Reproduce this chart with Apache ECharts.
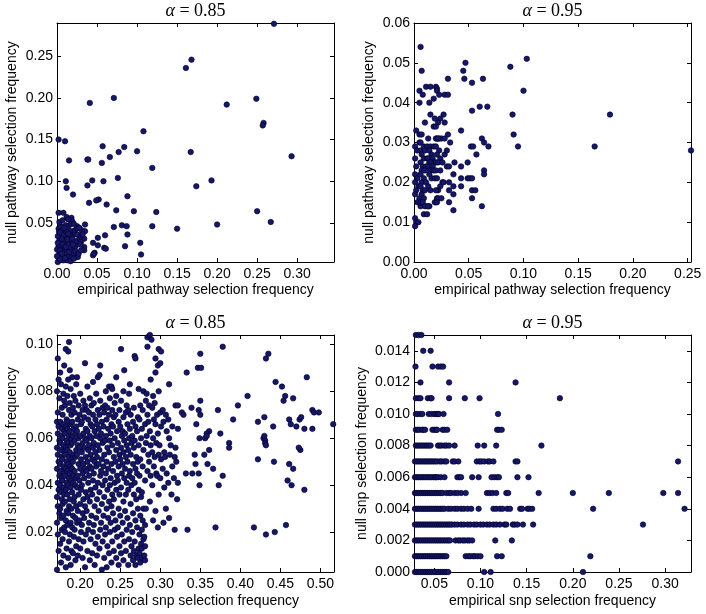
<!DOCTYPE html>
<html><head><meta charset="utf-8">
<script src="https://cdn.jsdelivr.net/npm/echarts@6/dist/echarts.min.js"></script>
<style>html,body{margin:0;padding:0;background:#fff}#c{width:706px;height:614px}</style>
</head><body><div id="c"></div>
<script>
// ---------- data ----------
const titles = ['α', ' = 0.85', ' = 0.95'];
const xNames = ['empirical pathway selection frequency', 'empirical snp selection frequency'];
const yNames = ['null pathway selection frequency', 'null snp selection frequency'];

const tlXTicks = [0.00, 0.05, 0.10, 0.15, 0.20, 0.25, 0.30];
const tlYTicks = [0.05, 0.10, 0.15, 0.20, 0.25];
const trXTicks = [0.00, 0.05, 0.10, 0.15, 0.20, 0.25];
const trYTicks = [0.00, 0.01, 0.02, 0.03, 0.04, 0.05, 0.06];
const blXTicks = [0.20, 0.25, 0.30, 0.35, 0.40, 0.45, 0.50];
const blYTicks = [0.02, 0.04, 0.06, 0.08, 0.10];
const brXTicks = [0.05, 0.10, 0.15, 0.20, 0.25, 0.30];
const brYTicks = [0.000, 0.002, 0.004, 0.006, 0.008, 0.010, 0.012, 0.014];

const tlRange = {x: [0, 0.346], y: [0.003, 0.290]};
const trRange = {x: [0, 0.253], y: [0, 0.06]};
const blRange = {x: [0.171, 0.517], y: [0.003, 0.104]};
const brRange = {x: [0.028, 0.328], y: [0, 0.015]};

const pathway85 = [
[0.271,0.289],[0.168,0.246],[0.161,0.236],[0.041,0.194],[0.071,0.200],[0.249,0.199],[0.212,0.192],[0.347,0.192],
[0.258,0.170],[0.257,0.167],[0.108,0.160],[0.002,0.150],[0.010,0.148],[0.057,0.142],[0.084,0.141],[0.077,0.135],
[0.100,0.136],[0.167,0.135],[0.066,0.129],[0.038,0.126],[0.039,0.126],[0.015,0.125],[0.056,0.122],[0.119,0.116],
[0.076,0.104],[0.293,0.130],[0.011,0.100],[0.058,0.100],[0.044,0.101],[0.038,0.095],[0.193,0.101],[0.174,0.094],
[0.012,0.092],[0.020,0.084],[0.088,0.082],[0.052,0.078],[0.049,0.077],[0.040,0.074],[0.062,0.072],[0.074,0.065],
[0.096,0.064],[0.124,0.063],[0.250,0.064],[0.267,0.051],[0.200,0.048],[0.150,0.043],[0.119,0.046],[0.081,0.047],
[0.087,0.046],[0.071,0.045],[0.088,0.036],[0.060,0.035],[0.085,0.022],[0.104,0.026],[0.105,0.012],[0.059,0.020],
[0.061,0.019],[0.051,0.032],[0.051,0.023],[0.045,0.026],[0.047,0.014],[0.045,0.011],[0.046,0.013],[0.035,0.048],
[0.035,0.040],[0.034,0.031],[0.034,0.021],[0.034,0.017],[0.026,0.044],[0.025,0.046],[0.028,0.031],[0.024,0.023],
[0.030,0.027],[0.024,0.009],
[0.002,0.062],[0.008,0.062],[0.002,0.043],[0.012,0.057],[0.018,0.056],[0.019,0.052],[0.014,0.054],[0.017,0.048],
[0.021,0.049],[0.005,0.046],[0.011,0.047],[0.014,0.043],[0.0075,0.041],[0.0025,0.039],[0.0167,0.040],[0.022,0.041],
[0.025,0.043],[0.028,0.035],[0.005,0.035],[0.011,0.033],[0.016,0.032],[0.020,0.035],[0.003,0.029],[0.008,0.027],
[0.014,0.025],[0.019,0.027],[0.023,0.028],[0.002,0.022],[0.007,0.019],[0.012,0.017],[0.017,0.019],[0.022,0.020],
[0.029,0.024],[0.003,0.014],[0.010,0.012],[0.015,0.010],[0.021,0.013],[0.026,0.009],[0.002,0.008],[0.008,0.005],
[0.013,0.005],[0.001,0.003],[0.005,0.009],[0.009,0.022],[0.013,0.030],[0.006,0.031],[0.000,0.018],[0.000,0.010],
[0.001,0.026],[0.001,0.034],[0.004,0.038],[0.009,0.036],[0.012,0.039],[0.016,0.036],[0.019,0.031],[0.007,0.024],
[0.011,0.021],[0.004,0.017],[0.015,0.015],[0.018,0.008],[0.020,0.024],[0.023,0.016],[0.027,0.013],[0.003,0.051],
[0.007,0.053],[0.009,0.044],[0.004,0.006],[0.010,0.008],[0.017,0.004],[0.021,0.007],[0.030,0.017],[0.031,0.041],
[0.028,0.044],[0.032,0.036],[0.025,0.036],[0.006,0.013],[0.014,0.037]
];

const pathway95 = [
[0.006,0.054],[0.103,0.051],[0.047,0.050],[0.088,0.049],[0.007,0.048],[0.045,0.048],[0.031,0.046],[0.046,0.046],
[0.053,0.045],[0.063,0.046],[0.005,0.043],[0.011,0.044],[0.015,0.044],[0.020,0.044],[0.021,0.0435],[0.008,0.042],
[0.021,0.043],[0.023,0.042],[0.028,0.042],[0.031,0.042],[0.100,0.043],[0.005,0.040],[0.014,0.040],[0.018,0.041],
[0.060,0.039],[0.067,0.039],[0.053,0.038],[0.015,0.037],[0.027,0.037],[0.090,0.037],[0.019,0.036],[0.024,0.036],
[0.028,0.035],[0.010,0.035],[0.022,0.035],[0.018,0.034],[0.020,0.034],[0.043,0.033],[0.002,0.033],[0.091,0.032],
[0.031,0.032],[0.005,0.032],[0.007,0.032],[0.062,0.031],[0.021,0.031],[0.023,0.031],[0.025,0.031],[0.028,0.031],
[0.033,0.030],[0.064,0.030],[0.052,0.029],[0.054,0.029],[0.068,0.029],[0.095,0.029],[0.005,0.030],[0.009,0.029],
[0.012,0.029],[0.057,0.027],[0.028,0.027],[0.049,0.025],[0.037,0.025],[0.043,0.024],[0.030,0.024],[0.032,0.024],
[0.064,0.023],[0.064,0.022],[0.036,0.022],[0.043,0.021],[0.049,0.021],[0.051,0.021],[0.053,0.021],[0.026,0.020],
[0.032,0.020],[0.036,0.019],[0.043,0.019],[0.053,0.018],[0.056,0.018],[0.032,0.018],[0.022,0.018],[0.021,0.016],
[0.036,0.017],[0.053,0.016],[0.062,0.014],[0.032,0.015],[0.020,0.015],[0.012,0.014],[0.014,0.014],[0.009,0.012],
[0.001,0.011],[0.002,0.010],[0.004,0.010],[0.001,0.009],[0.036,0.013],[0.179,0.037],[0.165,0.029],[0.253,0.028],
[0.001,0.029],[0.003,0.028],[0.001,0.026],[0.002,0.024],[0.001,0.022],[0.003,0.021],[0.001,0.020],[0.004,0.019],
[0.002,0.018],[0.001,0.017],[0.005,0.016],[0.003,0.015],[0.006,0.014],
[0.006,0.030],[0.006,0.028],[0.010,0.028],[0.007,0.027],[0.009,0.026],[0.012,0.026],[0.006,0.025],[0.008,0.024],
[0.011,0.024],[0.007,0.023],[0.010,0.023],[0.006,0.022],[0.009,0.021],[0.007,0.020],[0.011,0.020],[0.006,0.019],
[0.008,0.018],[0.010,0.018],[0.007,0.017],[0.009,0.016],[0.006,0.015],[0.008,0.015],[0.010,0.014],[0.012,0.012],
[0.013,0.031],[0.015,0.029],[0.018,0.029],[0.014,0.028],[0.016,0.027],[0.013,0.026],[0.017,0.026],[0.014,0.025],
[0.016,0.025],[0.019,0.025],[0.013,0.024],[0.017,0.024],[0.015,0.023],[0.018,0.023],[0.014,0.022],[0.016,0.021],
[0.019,0.021],[0.013,0.019],[0.015,0.018],[0.013,0.014],
[0.020,0.031],[0.022,0.031],[0.020,0.029],[0.023,0.028],[0.021,0.027],[0.024,0.026],[0.020,0.025],[0.022,0.025],
[0.026,0.025],[0.020,0.023],[0.024,0.023],[0.021,0.021],[0.027,0.020],[0.024,0.019],[0.020,0.018],[0.022,0.016],
[0.025,0.016],[0.019,0.015],[0.021,0.015],[0.030,0.028]
];

const snp85 = [
[0.171,0.004],[0.173,0.012],[0.172,0.019],[0.171,0.024],[0.174,0.028],[0.172,0.031],[0.171,0.035],[0.173,0.038],[0.172,0.041],[0.174,0.044],[0.171,0.047],[0.173,0.050],[0.172,0.053],[0.171,0.056],[0.174,0.059],[0.172,0.062],[0.173,0.065],[0.171,0.067],[0.172,0.071],[0.174,0.077],[0.171,0.080],[0.173,0.085],[0.172,0.094],
[0.176,0.007],[0.175,0.015],[0.177,0.021],[0.176,0.026],[0.175,0.030],[0.177,0.034],[0.176,0.037],[0.175,0.040],[0.177,0.043],[0.176,0.046],[0.175,0.049],[0.177,0.052],[0.176,0.055],[0.175,0.058],[0.176,0.061],[0.177,0.064],[0.175,0.067],[0.177,0.073],[0.176,0.083],[0.175,0.088],
[0.179,0.010],[0.178,0.017],[0.180,0.022],[0.179,0.027],[0.178,0.032],[0.180,0.036],[0.179,0.039],[0.178,0.042],[0.180,0.045],[0.179,0.048],[0.178,0.051],[0.180,0.054],[0.179,0.057],[0.178,0.060],[0.180,0.063],[0.179,0.066],[0.178,0.070],[0.180,0.076],[0.179,0.079],
[0.182,0.005],[0.183,0.013],[0.181,0.020],[0.182,0.025],[0.183,0.029],[0.181,0.033],[0.182,0.038],[0.183,0.041],[0.181,0.044],[0.182,0.047],[0.183,0.050],[0.181,0.053],[0.182,0.056],[0.183,0.059],[0.181,0.062],[0.182,0.065],[0.183,0.068],[0.181,0.074],[0.182,0.082],[0.180,0.091],[0.182,0.098],
[0.185,0.009],[0.186,0.016],[0.184,0.023],[0.185,0.028],[0.186,0.031],[0.184,0.036],[0.185,0.040],[0.186,0.043],[0.184,0.046],[0.185,0.049],[0.186,0.052],[0.184,0.055],[0.185,0.058],[0.186,0.061],[0.184,0.064],[0.185,0.067],[0.186,0.072],[0.184,0.078],[0.185,0.085],[0.185,0.097],[0.186,0.101],
[0.188,0.006],[0.189,0.012],[0.187,0.019],[0.188,0.024],[0.189,0.030],[0.187,0.034],[0.188,0.039],[0.189,0.042],[0.187,0.045],[0.188,0.048],[0.189,0.051],[0.187,0.054],[0.188,0.057],[0.189,0.060],[0.187,0.063],[0.188,0.066],[0.189,0.070],[0.187,0.075],[0.188,0.081],[0.187,0.089],
[0.191,0.011],[0.192,0.018],[0.190,0.022],[0.191,0.027],[0.192,0.033],[0.190,0.037],[0.191,0.041],[0.192,0.044],[0.190,0.047],[0.191,0.050],[0.192,0.053],[0.190,0.058],[0.191,0.061],[0.192,0.064],[0.190,0.067],[0.191,0.073],[0.192,0.078],[0.190,0.086],
[0.194,0.008],[0.195,0.014],[0.193,0.021],[0.194,0.026],[0.195,0.031],[0.193,0.035],[0.194,0.040],[0.195,0.043],[0.193,0.046],[0.194,0.052],[0.195,0.055],[0.193,0.059],[0.194,0.062],[0.195,0.065],[0.193,0.071],[0.194,0.076],[0.195,0.083],
[0.197,0.010],[0.198,0.017],[0.196,0.024],[0.197,0.029],[0.198,0.036],[0.196,0.039],[0.197,0.044],[0.198,0.049],[0.196,0.053],[0.197,0.057],[0.198,0.060],[0.196,0.063],[0.197,0.068],[0.198,0.074],[0.196,0.086],
[0.200,0.013],[0.201,0.020],[0.199,0.025],[0.200,0.032],[0.201,0.038],[0.199,0.042],[0.200,0.047],[0.201,0.051],[0.199,0.056],[0.200,0.061],[0.201,0.066],[0.199,0.070],[0.200,0.079],
[0.203,0.009],[0.204,0.016],[0.202,0.023],[0.203,0.028],[0.204,0.034],[0.202,0.040],[0.203,0.045],[0.204,0.049],[0.202,0.054],[0.203,0.058],[0.204,0.062],[0.202,0.067],[0.203,0.072],[0.204,0.076],
[0.206,0.005],[0.207,0.019],[0.205,0.026],[0.206,0.031],[0.207,0.037],[0.205,0.043],[0.206,0.047],[0.207,0.052],[0.205,0.056],[0.206,0.060],[0.207,0.064],[0.205,0.069],[0.206,0.074],[0.206,0.092],
[0.209,0.012],[0.210,0.021],[0.208,0.029],[0.209,0.035],[0.210,0.041],[0.208,0.046],[0.209,0.050],[0.210,0.055],[0.208,0.059],[0.209,0.063],[0.210,0.068],[0.208,0.072],[0.209,0.082],
[0.212,0.008],[0.213,0.017],[0.211,0.024],[0.212,0.033],[0.213,0.038],[0.211,0.044],[0.212,0.048],[0.213,0.053],[0.211,0.057],[0.212,0.061],[0.213,0.066],[0.211,0.071],[0.212,0.077],
[0.215,0.011],[0.216,0.020],[0.214,0.027],[0.215,0.036],[0.216,0.042],[0.214,0.047],[0.215,0.051],[0.216,0.056],[0.214,0.060],[0.215,0.065],[0.216,0.070],[0.214,0.074],[0.216,0.084],
[0.218,0.006],[0.219,0.015],[0.217,0.023],[0.218,0.031],[0.219,0.039],[0.217,0.045],[0.218,0.050],[0.219,0.054],[0.217,0.058],[0.218,0.063],[0.219,0.068],[0.217,0.075],
[0.221,0.010],[0.222,0.018],[0.220,0.026],[0.221,0.034],[0.222,0.041],[0.220,0.048],[0.221,0.052],[0.222,0.057],[0.220,0.061],[0.221,0.066],[0.222,0.072],[0.220,0.079],
[0.224,0.013],[0.225,0.021],[0.223,0.029],[0.224,0.037],[0.225,0.044],[0.223,0.049],[0.224,0.055],[0.225,0.060],[0.223,0.064],[0.224,0.070],[0.225,0.076],[0.222,0.086],[0.224,0.087],
[0.227,0.004],[0.228,0.016],[0.226,0.024],[0.227,0.032],[0.228,0.040],[0.226,0.046],[0.227,0.051],[0.228,0.058],[0.226,0.062],[0.227,0.067],[0.228,0.073],[0.225,0.091],
[0.230,0.009],[0.231,0.019],[0.229,0.027],[0.230,0.035],[0.231,0.042],[0.229,0.048],[0.230,0.053],[0.231,0.059],[0.229,0.065],[0.230,0.071],[0.231,0.074],
[0.233,0.005],[0.234,0.014],[0.232,0.022],[0.233,0.030],[0.234,0.038],[0.232,0.045],[0.233,0.050],[0.234,0.056],[0.232,0.061],[0.233,0.068],[0.234,0.073],[0.232,0.080],
[0.236,0.011],[0.237,0.020],[0.235,0.026],[0.236,0.033],[0.237,0.040],[0.235,0.047],[0.236,0.054],[0.237,0.059],[0.235,0.064],[0.236,0.070],[0.237,0.077],[0.236,0.082],
[0.239,0.007],[0.240,0.016],[0.238,0.024],[0.239,0.031],[0.240,0.036],[0.238,0.043],[0.239,0.049],[0.240,0.057],[0.238,0.062],[0.239,0.066],[0.240,0.072],[0.239,0.082],
[0.242,0.012],[0.243,0.021],[0.241,0.028],[0.242,0.034],[0.243,0.041],[0.241,0.046],[0.242,0.052],[0.243,0.060],[0.241,0.065],[0.242,0.069],[0.243,0.075],[0.240,0.081],
[0.245,0.009],[0.246,0.018],[0.244,0.025],[0.245,0.038],[0.246,0.044],[0.244,0.050],[0.245,0.055],[0.246,0.063],[0.244,0.070],[0.245,0.078],
[0.248,0.006],[0.249,0.014],[0.247,0.022],[0.248,0.030],[0.249,0.036],[0.247,0.042],[0.248,0.048],[0.249,0.053],[0.247,0.058],[0.248,0.067],[0.249,0.072],[0.245,0.086],
[0.251,0.011],[0.252,0.019],[0.250,0.027],[0.251,0.039],[0.252,0.045],[0.250,0.051],[0.251,0.056],[0.252,0.061],[0.250,0.065],[0.251,0.076],[0.251,0.098],
[0.254,0.008],[0.255,0.016],[0.253,0.024],[0.254,0.033],[0.255,0.043],[0.253,0.049],[0.254,0.054],[0.255,0.059],[0.253,0.063],[0.254,0.069],[0.254,0.080],[0.255,0.089],
[0.257,0.012],[0.258,0.021],[0.256,0.029],[0.257,0.036],[0.258,0.041],[0.256,0.047],[0.257,0.052],[0.258,0.057],[0.256,0.062],[0.257,0.071],[0.258,0.074],
[0.260,0.006],[0.261,0.017],[0.259,0.026],[0.260,0.038],[0.261,0.044],[0.259,0.050],[0.260,0.055],[0.261,0.060],[0.259,0.066],[0.260,0.072],[0.261,0.079],
[0.263,0.010],[0.264,0.014],[0.262,0.023],[0.263,0.032],[0.264,0.040],[0.262,0.046],[0.263,0.053],[0.264,0.058],[0.262,0.064],[0.263,0.070],[0.262,0.083],
[0.266,0.008],[0.267,0.012],[0.265,0.020],[0.266,0.028],[0.267,0.036],[0.265,0.043],[0.266,0.049],[0.267,0.056],[0.265,0.061],[0.266,0.067],[0.267,0.073],
[0.269,0.006],[0.270,0.010],[0.268,0.016],[0.269,0.025],[0.270,0.034],[0.268,0.041],[0.269,0.047],[0.270,0.052],[0.268,0.059],[0.269,0.065],[0.268,0.095],[0.269,0.094],
[0.272,0.009],[0.273,0.013],[0.271,0.022],[0.272,0.030],[0.273,0.038],[0.271,0.045],[0.272,0.050],[0.273,0.057],[0.271,0.063],[0.272,0.069],[0.273,0.081],
[0.275,0.007],[0.274,0.011],[0.276,0.015],[0.274,0.019],[0.275,0.027],[0.276,0.035],[0.274,0.044],[0.275,0.051],[0.276,0.060],[0.274,0.068],[0.275,0.074],
[0.278,0.009],[0.277,0.013],[0.279,0.017],[0.277,0.021],[0.278,0.025],[0.279,0.030],[0.277,0.037],[0.278,0.048],[0.279,0.055],[0.277,0.064],[0.278,0.072],[0.279,0.080],
[0.281,0.008],[0.280,0.010],[0.281,0.014],[0.280,0.018],[0.281,0.023],[0.282,0.030],[0.281,0.042],[0.282,0.058],[0.281,0.066],[0.282,0.076],
[0.284,0.046],[0.285,0.053],[0.283,0.061],[0.285,0.067],[0.284,0.070],[0.283,0.079],[0.284,0.099],[0.284,0.103],
[0.287,0.033],[0.288,0.044],[0.286,0.050],[0.288,0.057],[0.287,0.063],[0.286,0.074],[0.288,0.085],[0.287,0.104],
[0.291,0.025],[0.290,0.040],[0.292,0.048],[0.290,0.054],[0.291,0.060],[0.292,0.068],[0.290,0.073],[0.291,0.078],[0.289,0.102],
[0.294,0.029],[0.295,0.045],[0.293,0.052],[0.295,0.058],[0.294,0.066],[0.293,0.075],[0.294,0.088],[0.294,0.094],
[0.297,0.022],[0.298,0.036],[0.296,0.044],[0.298,0.053],[0.297,0.062],[0.296,0.070],[0.298,0.080],[0.297,0.091],[0.298,0.098],
[0.300,0.043],[0.301,0.051],[0.299,0.057],[0.301,0.065],[0.300,0.071],[0.300,0.092],[0.301,0.097],
[0.304,0.024],[0.305,0.039],[0.303,0.047],[0.305,0.054],[0.304,0.067],[0.303,0.072],
[0.307,0.030],[0.308,0.045],[0.306,0.052],[0.308,0.063],[0.307,0.070],
[0.311,0.026],[0.310,0.041],[0.312,0.053],[0.311,0.060],[0.310,0.068],[0.311,0.083],
[0.314,0.036],[0.315,0.048],[0.313,0.057],[0.315,0.065],
[0.318,0.021],[0.317,0.043],[0.318,0.052],[0.319,0.056],[0.319,0.074],
[0.321,0.034],[0.322,0.041],[0.320,0.050],[0.322,0.064],[0.322,0.074],
[0.327,0.071],[0.329,0.070],[0.332,0.045],[0.333,0.088],[0.334,0.021],[0.339,0.073],[0.340,0.045],
[0.378,0.099],[0.350,0.096],[0.347,0.090],[0.351,0.090],[0.435,0.096],[0.432,0.094],[0.444,0.084],[0.452,0.082],
[0.483,0.086],[0.409,0.078],[0.456,0.078],[0.454,0.076],[0.466,0.077],[0.350,0.076],[0.397,0.074],[0.348,0.072],
[0.350,0.070],[0.372,0.072],[0.391,0.068],[0.422,0.067],[0.430,0.069],[0.461,0.068],[0.463,0.066],[0.470,0.065],
[0.474,0.068],[0.476,0.069],[0.490,0.072],[0.492,0.071],[0.498,0.071],[0.480,0.064],[0.490,0.064],[0.516,0.066],
[0.441,0.065],[0.345,0.066],[0.361,0.063],[0.358,0.062],[0.375,0.062],[0.429,0.060],[0.431,0.059],[0.430,0.061],
[0.431,0.058],[0.432,0.057],[0.349,0.060],[0.356,0.060],[0.358,0.061],[0.386,0.058],[0.386,0.056],[0.361,0.055],
[0.355,0.053],[0.475,0.055],[0.473,0.056],[0.343,0.053],[0.422,0.051],[0.344,0.049],[0.359,0.049],[0.442,0.050],
[0.461,0.049],[0.466,0.047],[0.366,0.047],[0.348,0.045],[0.378,0.044],[0.349,0.040],[0.373,0.040],[0.459,0.042],
[0.464,0.040],[0.480,0.038],[0.369,0.022],[0.417,0.022],[0.432,0.019],[0.443,0.020],[0.457,0.023]
];

// snp, alpha = 0.95: null frequencies are multiples of 0.001; x values per level
const snp95Levels = [0.000, 0.001, 0.002, 0.003, 0.004, 0.005, 0.006, 0.007, 0.008, 0.009, 0.010, 0.011, 0.012, 0.013, 0.014, 0.015];
const snp95X = [
  [0.029,0.031,0.033,0.035,0.037,0.039,0.041,0.043,0.045,0.047,0.049,0.051,0.053,0.055,0.057,0.059,0.061,0.063,0.065,0.104,0.111,0.211],
  [0.029,0.031,0.033,0.035,0.037,0.039,0.041,0.043,0.045,0.047,0.049,0.051,0.053,0.055,0.057,0.059,0.061,0.063,0.084,0.087,0.089,0.092,0.094,0.097,0.100,0.118,0.123,0.219],
  [0.029,0.031,0.033,0.035,0.037,0.039,0.041,0.043,0.045,0.047,0.049,0.051,0.053,0.055,0.057,0.059,0.061,0.063,0.065,0.067,0.073,0.076,0.078,0.081,0.083,0.086,0.088,0.091,0.116,0.134],
  [0.029,0.031,0.033,0.035,0.037,0.039,0.041,0.043,0.045,0.047,0.049,0.051,0.053,0.055,0.057,0.059,0.061,0.063,0.065,0.067,0.069,0.072,0.075,0.079,0.082,0.086,0.089,0.093,0.096,0.100,0.103,0.107,0.110,0.114,0.117,0.121,0.126,0.128,0.135,0.137,0.140,0.146,0.157,0.276],
  [0.029,0.031,0.033,0.035,0.037,0.039,0.041,0.043,0.045,0.047,0.049,0.051,0.053,0.055,0.057,0.059,0.061,0.065,0.068,0.072,0.075,0.079,0.082,0.086,0.090,0.098,0.114,0.117,0.121,0.124,0.129,0.132,0.143,0.145,0.151,0.153,0.156,0.222,0.321,0.330],
  [0.029,0.031,0.033,0.035,0.037,0.039,0.041,0.043,0.045,0.047,0.049,0.051,0.053,0.055,0.057,0.059,0.063,0.066,0.068,0.072,0.075,0.079,0.084,0.107,0.110,0.113,0.117,0.128,0.130,0.163,0.200,0.239,0.298,0.314],
  [0.029,0.031,0.033,0.035,0.037,0.039,0.041,0.043,0.045,0.047,0.049,0.051,0.052,0.054,0.057,0.061,0.075,0.077,0.079,0.091,0.098,0.112,0.115,0.118,0.120,0.140,0.152],
  [0.029,0.031,0.033,0.035,0.037,0.039,0.041,0.043,0.045,0.047,0.049,0.051,0.053,0.056,0.058,0.061,0.063,0.070,0.072,0.076,0.096,0.099,0.101,0.104,0.108,0.110,0.114,0.138,0.140,0.314],
  [0.030,0.032,0.034,0.036,0.038,0.040,0.042,0.044,0.046,0.054,0.056,0.058,0.061,0.063,0.066,0.072,0.097,0.104,0.117,0.166],
  [0.030,0.032,0.034,0.037,0.038,0.040,0.048,0.050,0.052,0.053,0.059,0.061,0.064,0.118,0.120,0.123],
  [0.030,0.032,0.035,0.037,0.044,0.047,0.050,0.052,0.054,0.055,0.060,0.119],
  [0.030,0.033,0.035,0.043,0.046,0.047,0.066,0.083,0.099,0.186],
  [0.035,0.066,0.138],
  [0.0296,0.048,0.054,0.057,0.0595],
  [0.038,0.046],
  [0.030,0.033,0.036]
];

// ---------- chart ----------
const snp95 = [];
snp95Levels.forEach((y, i) => snp95X[i].forEach(x => snp95.push([x, y])));

const grids = [
  {left: 57, top: 23, width: 277, height: 239},
  {left: 414, top: 23, width: 277, height: 239},
  {left: 57, top: 335, width: 277, height: 237},
  {left: 414, top: 335, width: 277, height: 237}
];
const panels = [
  {r: tlRange, xt: tlXTicks, yt: tlYTicks, xd: 2, yd: 2, xn: xNames[0], yn: yNames[0], data: pathway85, yGap: 38, xGap: 21, t: titles[1]},
  {r: trRange, xt: trXTicks, yt: trYTicks, xd: 2, yd: 2, xn: xNames[0], yn: yNames[0], data: pathway95, yGap: 38, xGap: 21, t: titles[2]},
  {r: blRange, xt: blXTicks, yt: blYTicks, xd: 2, yd: 2, xn: xNames[1], yn: yNames[1], data: snp85, yGap: 38, xGap: 22, t: titles[1]},
  {r: brRange, xt: brXTicks, yt: brYTicks, xd: 2, yd: 3, xn: xNames[1], yn: yNames[1], data: snp95, yGap: 45, xGap: 22, t: titles[2]}
];
const FONT = 'Liberation Sans';
const xAxis = [], yAxis = [], series = [], graphic = [];
const tick = vals => ({show: true, inside: true, length: 4, lineStyle: {color: '#000', width: 1}, customValues: vals});
panels.forEach((p, i) => {
  const common = {gridIndex: i, type: 'value', splitLine: {show: false},
    axisLine: {show: true, onZero: false, lineStyle: {color: '#000', width: 1}}};
  xAxis.push(Object.assign({}, common, {position: 'bottom', min: p.r.x[0], max: p.r.x[1],
    axisTick: tick(p.xt),
    axisLabel: {customValues: p.xt, formatter: v => v.toFixed(p.xd), fontFamily: FONT, fontSize: 14, color: '#000', margin: 5},
    name: p.xn, nameLocation: 'middle', nameGap: p.xGap, nameTextStyle: {fontFamily: FONT, fontSize: 14, color: '#000'}}));
  xAxis.push(Object.assign({}, common, {position: 'top', min: p.r.x[0], max: p.r.x[1],
    axisTick: tick(p.xt), axisLabel: {show: false}}));
  yAxis.push(Object.assign({}, common, {position: 'left', min: p.r.y[0], max: p.r.y[1],
    axisTick: tick(p.yt),
    axisLabel: {customValues: p.yt, formatter: v => v.toFixed(p.yd), fontFamily: FONT, fontSize: 14, color: '#000', margin: 4},
    name: p.yn, nameLocation: 'middle', nameGap: p.yGap, nameTextStyle: {fontFamily: FONT, fontSize: 14, color: '#000'}}));
  yAxis.push(Object.assign({}, common, {position: 'right', min: p.r.y[0], max: p.r.y[1],
    axisTick: tick(p.yt), axisLabel: {show: false}}));
  series.push({type: 'scatter', xAxisIndex: 2 * i, yAxisIndex: 2 * i, data: p.data, symbolSize: 5.5,
    clip: true, silent: true,
    itemStyle: {color: '#16166a', borderColor: '#000020', borderWidth: 0.6, opacity: 1}});
  const g = grids[i];
  graphic.push({type: 'text', x: g.left + g.width / 2, y: g.top - 12,
    style: {text: '{a|' + titles[0] + '}{b|' + p.t + '}', align: 'center', verticalAlign: 'middle',
      rich: {a: {fontFamily: 'Liberation Serif', fontStyle: 'italic', fontSize: 18, fill: '#000'},
             b: {fontFamily: 'Liberation Serif', fontSize: 18, fill: '#000'}}}});
});

const chart = echarts.init(document.getElementById('c'), null, {renderer: 'canvas'});
chart.setOption({animation: false, backgroundColor: '#fff', grid: grids, xAxis, yAxis, series, graphic});
</script></body></html>
